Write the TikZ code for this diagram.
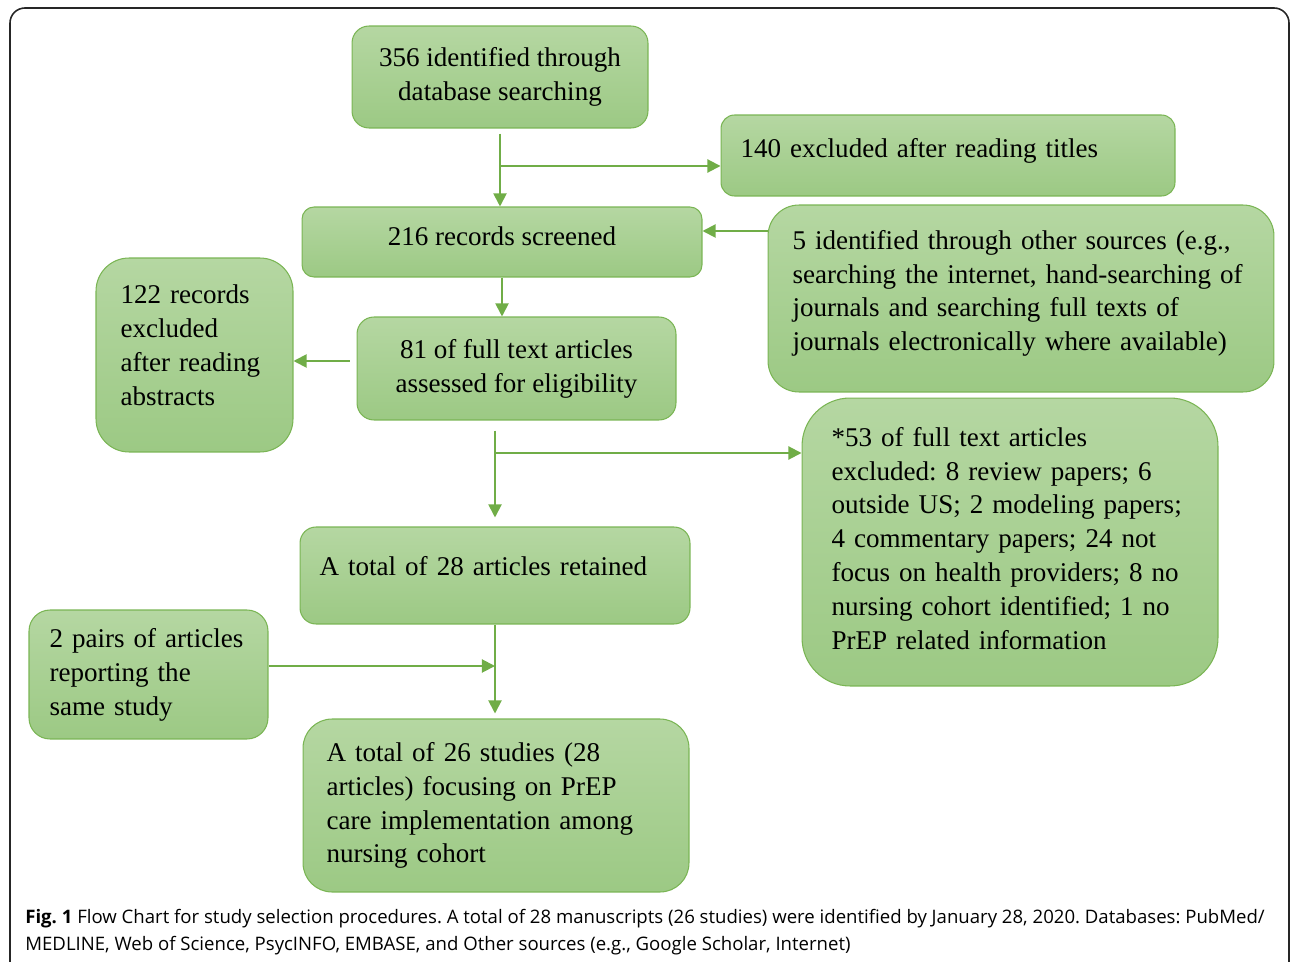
\documentclass[tikz,border=0pt]{standalone}
\usepackage{fontspec}
\setmainfont{Liberation Serif}
\newfontfamily\captionfont{Open Sans}
\usepackage{tikz}
\usetikzlibrary{arrows.meta}
\frenchspacing

\definecolor{boxTop}{RGB}{181,215,162}
\definecolor{boxBottom}{RGB}{156,201,132}
\definecolor{boxEdge}{RGB}{122,181,84}
\definecolor{arrowGreen}{RGB}{112,173,71}

\begin{document}
\begin{tikzpicture}[x=0.02cm, y=-0.02cm,
    box/.style={draw=boxEdge, line width=0.6pt, top color=boxTop, bottom color=boxBottom,
      font=\fontsize{15.4}{19.3}\selectfont, align=center, inner sep=0pt},
    leftbox/.style={box, align=left},
    flow/.style={draw=arrowGreen, line width=1.1pt, -{Triangle[length=7.5pt, width=7.5pt]}}]

    % Page and frame
    \useasboundingbox (0,0) rectangle (1290,962);
    \clip (0,0) rectangle (1290,962);
    \draw[line width=0.9pt, black!85, rounded corners=0.3cm] (10,8) rectangle (1289,1000);

    % Boxes of the main column
    \node[box, minimum width=5.92cm, minimum height=2.04cm, rounded corners=0.34cm] (search) at (500,77) {356 identified through\\database searching};
    \node[box, minimum width=8cm, minimum height=1.4cm, rounded corners=0.24cm, text depth=0.24cm] (screen) at (502,242) {216 records screened};
    \node[box, minimum width=6.38cm, minimum height=2.06cm, rounded corners=0.34cm] (assess) at (516.5,368.5) {81 of full text articles\\assessed for eligibility};
    \node[leftbox, minimum width=7.8cm, minimum height=1.94cm, rounded corners=0.32cm, text width=7.02cm, text depth=0.4cm] (retain) at (495,575.5) {A total of 28 articles retained};
    \node[leftbox, minimum width=7.72cm, minimum height=3.46cm, rounded corners=0.58cm, text width=6.78cm] (final) at (496,805.5) {A total of 26 studies (28\\articles) focusing on PrEP\\care implementation among\\nursing cohort};

    % Boxes on the sides
    \node[leftbox, minimum width=9.08cm, minimum height=1.62cm, rounded corners=0.27cm, text width=8.3cm, text depth=0.32cm] (titles) at (948,155.5) {140 excluded after reading titles};
    \node[leftbox, minimum width=10.12cm, minimum height=3.74cm, rounded corners=0.62cm, text width=9.14cm, text depth=67pt] (other) at (1021,298.5) {5 identified through other sources (e.g.,\\searching the internet, hand-searching of\\journals and searching full texts of\\journals electronically where available)};
    \node[leftbox, minimum width=3.94cm, minimum height=3.88cm, rounded corners=0.66cm, text width=2.96cm, text depth=69pt] (abstr) at (194.5,355) {122 records\\excluded\\after reading\\abstracts};
    \node[leftbox, minimum width=8.32cm, minimum height=5.76cm, rounded corners=0.96cm, text width=7.14cm, text depth=120pt] (fulltext) at (1010,542) {*53 of full text articles\\excluded: 8 review papers; 6\\outside US; 2 modeling papers;\\4 commentary papers; 24 not\\focus on health providers; 8 no\\nursing cohort identified; 1 no\\PrEP related information};
    \node[leftbox, minimum width=4.78cm, minimum height=2.58cm, rounded corners=0.42cm, text width=3.96cm] (pairs) at (148.5,674.5) {2 pairs of articles\\reporting the\\same study};

    % Connectors
    \coordinate (toTitles) at (search.south |- 0,166);
    \coordinate (fromOther) at (other.west |- 0,231);
    \coordinate (toAbstr) at (assess.west |- 0,361);
    \coordinate (toFull) at (retain.north |- 0,453);
    \coordinate (fromPairs) at (pairs.east |- 0,666);
    \draw[flow, shorten <=0.1cm] (search.south) -- (search.south |- screen.north);
    \draw[flow] (toTitles) -- (toTitles -| titles.west);
    \draw[flow] (fromOther) -- (fromOther -| screen.east);
    \draw[flow] (screen.south) -- (screen.south |- assess.north);
    \draw[flow, shorten <=0.14cm] (toAbstr) -- (toAbstr -| abstr.east);
    \draw[flow, shorten <=0.2cm, shorten >=0.18cm] (retain.north |- assess.south) -- (retain.north);
    \draw[flow] (toFull) -- (toFull -| fulltext.west);
    \draw[flow, shorten >=0.1cm] (retain.south) -- (retain.south |- final.north);
    \draw[flow] (fromPairs) -- (fromPairs -| retain.south);

    % Caption
    \node[anchor=north west, align=left, inner sep=0pt, font=\captionfont\fontsize{10.58}{15.3}\selectfont] (caption) at (25,909)
      {\textbf{Fig. 1} Flow Chart for study selection procedures. A total of 28 manuscripts (26 studies) were identified by January 28, 2020. Databases: PubMed/\\MEDLINE, Web of Science, PsycINFO, EMBASE, and Other sources (e.g., Google Scholar, Internet)};
\end{tikzpicture}
\end{document}
